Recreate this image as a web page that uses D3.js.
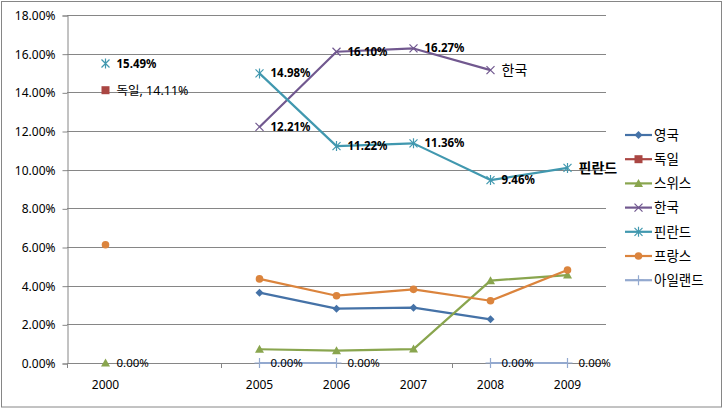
<!DOCTYPE html>
<html><head><meta charset="utf-8">
<script src="https://cdn.jsdelivr.net/npm/d3@7"></script>
<style>
html,body{margin:0;padding:0;background:#fff;}
svg text{font-family:"Noto Sans","Noto Sans CJK KR",sans-serif;}
</style></head>
<body><div id="chart"></div>
<script>
const categories = ["2000", "", "2005", "2006", "2007", "2008", "2009"];
const seriesNames = ["영국", "독일", "스위스", "한국", "핀란드", "프랑스", "아일랜드"];
const ukValues      = [null, null, 3.64, 2.81, 2.86, 2.26, null];
const germanyValues = [14.11, null, null, null, null, null, null];
const swissValues   = [0.00, null, 0.71, 0.64, 0.72, 4.26, 4.55];
const koreaValues   = [null, null, 12.21, 16.10, 16.27, 15.15, null];
const finlandValues = [15.49, null, 14.98, 11.22, 11.36, 9.46, 10.09];
const franceValues  = [6.12, null, 4.35, 3.48, 3.81, 3.22, 4.81];
const irelandValues = [null, null, 0.00, 0.00, null, 0.00, 0.00];
const yTicks = [0, 2, 4, 6, 8, 10, 12, 14, 16, 18];
// data labels: [series index, category index, kind]
const dataLabels = [
  [1, 0, "nameValue"],
  [2, 0, "value"],
  [3, 2, "valueBold"], [3, 3, "valueBold"], [3, 4, "valueBold"], [3, 5, "name"],
  [4, 0, "valueBold"], [4, 2, "valueBold"], [4, 3, "valueBold"], [4, 4, "valueBold"], [4, 5, "valueBold"], [4, 6, "nameBold"],
  [6, 2, "value"], [6, 3, "value"], [6, 5, "value"], [6, 6, "value"]
];
const xTickBoundaries = [0, 2, 5];

const allValues = [ukValues, germanyValues, swissValues, koreaValues, finlandValues, franceValues, irelandValues];
const colors = ["#4572A7", "#AA4643", "#89A54E", "#71588F", "#4198AF", "#DB843D", "#93A9CF"];
const markers = ["diamond", "square", "triangle", "x", "asterisk", "circle", "plus"];

const W = 723, H = 409;
const svg = d3.select("#chart").append("svg").attr("width", W).attr("height", H);
svg.append("rect").attr("x", 1.5).attr("y", 1.5).attr("width", W - 3).attr("height", H - 3.5)
  .attr("fill", "#fff").attr("stroke", "#868686").attr("stroke-width", 1);

const pLeft = 67, pRight = 606, pTop = 15, pBottom = 363;
const x = d3.scaleBand().domain(d3.range(categories.length)).range([pLeft, pRight]);
const y = d3.scaleLinear().domain([0, 18]).range([pBottom, pTop]);
const grey = "#868686";

// gridlines + y axis
const yAxis = d3.axisLeft(y).tickValues(yTicks).tickSize(5).tickFormat(d => d.toFixed(2) + "%");
const gy = svg.append("g").attr("transform", `translate(${pLeft + 0.5},0.5)`).call(yAxis);
gy.select(".domain").attr("stroke", grey);
gy.selectAll(".tick line").attr("stroke", grey);
gy.selectAll(".tick text").attr("font-size", 12).attr("fill", "#000").attr("x", -12);
svg.append("g").selectAll("line").data(yTicks.filter(d => d > 0)).join("line")
  .attr("x1", pLeft).attr("x2", pRight)
  .attr("y1", d => Math.round(y(d)) + 0.5).attr("y2", d => Math.round(y(d)) + 0.5)
  .attr("stroke", grey).attr("stroke-width", 1);

// x axis
svg.append("line").attr("x1", pLeft).attr("x2", pRight)
  .attr("y1", Math.round(y(0)) + 0.5).attr("y2", Math.round(y(0)) + 0.5).attr("stroke", grey);
svg.append("g").selectAll("line").data(xTickBoundaries).join("line")
  .attr("x1", d => Math.round(pLeft + d * x.step()) + 0.5).attr("x2", d => Math.round(pLeft + d * x.step()) + 0.5)
  .attr("y1", y(0)).attr("y2", y(0) + 5).attr("stroke", grey);
svg.append("g").selectAll("text").data(categories).join("text")
  .attr("x", (d, i) => x(i) + x.bandwidth() / 2).attr("y", y(0) + 26)
  .attr("text-anchor", "middle").attr("font-size", 12).text(d => d);

function drawMarker(g, type, color, cx, cy) {
  const s = 4;
  if (type === "diamond") g.append("path").attr("d", `M${cx},${cy - s}L${cx + s},${cy}L${cx},${cy + s}L${cx - s},${cy}Z`).attr("fill", color);
  else if (type === "square") g.append("rect").attr("x", cx - 4).attr("y", cy - 4).attr("width", 8).attr("height", 8).attr("fill", color);
  else if (type === "triangle") g.append("path").attr("d", `M${cx},${cy - 4.5}L${cx + 4.5},${cy + 3.5}L${cx - 4.5},${cy + 3.5}Z`).attr("fill", color);
  else if (type === "circle") g.append("circle").attr("cx", cx).attr("cy", cy).attr("r", 3.8).attr("fill", color);
  else if (type === "x") g.append("path").attr("d", `M${cx - 4},${cy - 4}L${cx + 4},${cy + 4}M${cx - 4},${cy + 4}L${cx + 4},${cy - 4}`).attr("stroke", color).attr("stroke-width", 1.2);
  else if (type === "asterisk") g.append("path").attr("d", `M${cx - 4},${cy - 4}L${cx + 4},${cy + 4}M${cx - 4},${cy + 4}L${cx + 4},${cy - 4}M${cx},${cy - 5}L${cx},${cy + 5}`).attr("stroke", color).attr("stroke-width", 1.2);
  else if (type === "plus") g.append("path").attr("d", `M${cx - 5},${cy}L${cx + 5},${cy}M${cx},${cy - 5}L${cx},${cy + 5}`).attr("stroke", color).attr("stroke-width", 1.2);
}

const line = d3.line().defined(d => d.v != null).x(d => x(d.i) + x.bandwidth() / 2).y(d => y(d.v));
const order = [6, 0, 1, 2, 5, 3, 4];
order.forEach(si => {
  const pts = allValues[si].map((v, i) => ({ v, i }));
  const g = svg.append("g");
  g.append("path").datum(pts).attr("d", line).attr("fill", "none")
    .attr("stroke", colors[si]).attr("stroke-width", 2.2).attr("stroke-linejoin", "round");
  pts.filter(p => p.v != null).forEach(p => drawMarker(g, markers[si], colors[si], x(p.i) + x.bandwidth() / 2, y(p.v)));
});

// data labels
dataLabels.forEach(([si, ci, kind]) => {
  const v = allValues[si][ci];
  const px = x(ci) + x.bandwidth() / 2 + 11, py = y(v);
  const t = svg.append("text").attr("x", px).attr("y", py).attr("dy", "0.35em").attr("fill", "#000");
  if (kind === "value") t.attr("font-size", 11.5).text(v.toFixed(2) + "%");
  else if (kind === "valueBold") t.attr("font-size", 11.5).attr("font-weight", "bold").text(v.toFixed(2) + "%");
  else if (kind === "nameValue") t.attr("font-size", 12.5).text(seriesNames[si] + ", " + v.toFixed(2) + "%");
  else if (kind === "name") t.attr("font-size", 14).text(seriesNames[si]);
  else if (kind === "nameBold") t.attr("font-size", 14).attr("font-weight", "bold").text(seriesNames[si]);
});

// legend
const lg = svg.append("g").attr("transform", "translate(625,135)");
seriesNames.forEach((n, i) => {
  const gy2 = i * 24.2;
  const g = lg.append("g");
  g.append("line").attr("x1", 0).attr("x2", 27).attr("y1", gy2).attr("y2", gy2).attr("stroke", colors[i]).attr("stroke-width", 2.2);
  drawMarker(g, markers[i], colors[i], 13.5, gy2);
  g.append("text").attr("x", 29).attr("y", gy2).attr("dy", "0.35em").attr("font-size", 13.5).text(n);
});
</script></body></html>
